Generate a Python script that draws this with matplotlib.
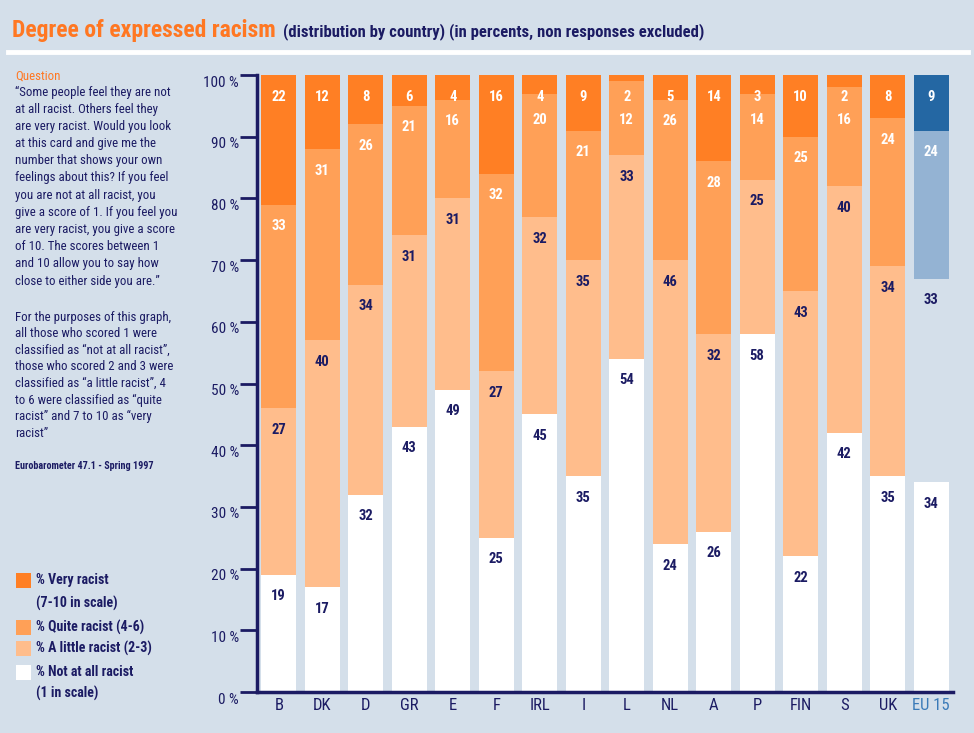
import matplotlib
matplotlib.use("Agg")
import matplotlib.pyplot as plt
import matplotlib.transforms as mtrans
from matplotlib import font_manager as fm
from matplotlib.patches import Rectangle
from matplotlib.lines import Line2D

# ---------------- data ----------------
countries = ["B", "DK", "D", "GR", "E", "F", "IRL", "I", "L", "NL", "A", "P", "FIN", "S", "UK", "EU 15"]
not_at_all = [19, 17, 32, 43, 49, 25, 45, 35, 54, 24, 26, 58, 22, 42, 35, 34]
a_little   = [27, 40, 34, 31, 31, 27, 32, 35, 33, 46, 32, 25, 43, 40, 34, 33]
quite      = [33, 31, 26, 21, 16, 32, 20, 21, 12, 26, 28, 14, 25, 16, 24, 24]
very       = [22, 12, 8, 6, 4, 16, 4, 9, 2, 5, 14, 3, 10, 2, 8, 9]
y_ticks = [0, 10, 20, 30, 40, 50, 60, 70, 80, 90, 100]
y_tick_labels = ["0 %", "10 %", "20 %", "30 %", "40 %", "50 %", "60 %", "70 %", "80 %", "90 %", "100 %"]

legend_labels = ["% Very racist", "(7-10 in scale)", "% Quite racist (4-6)",
                 "% A little racist (2-3)", "% Not at all racist", "(1 in scale)"]

question_lines = [
    "\u201cSome people feel they are not",
    "at all racist. Others feel they",
    "are very racist. Would you look",
    "at this card and give me the",
    "number that shows your own",
    "feelings about this? If you feel",
    "you are not at all racist, you",
    "give a score of 1. If you feel you",
    "are very racist, you give a score",
    "of 10. The scores between 1",
    "and 10 allow you to say how",
    "close to either side you are.\u201d",
]
purpose_lines = [
    "For the purposes of this graph,",
    "all those who scored 1 were",
    "classified as \u201cnot at all racist\u201d,",
    "those who scored 2 and 3 were",
    "classified as \u201ca little racist\u201d, 4",
    "to 6 were classified as \u201cquite",
    "racist\u201d and 7 to 10 as \u201cvery",
    "racist\u201d",
]

# ---------------- style ----------------
BG = "#d4dfea"
NAVY = "#1b1b63"
ORANGE_TXT = "#ff7722"
C_VERY = "#ff7f24"
C_QUITE = "#ffa057"
C_LITTLE = "#ffbd8c"
C_NOT = "#ffffff"
C_EU_VERY = "#2467a3"
C_EU_QUITE = "#94b3d3"
EU_TXT = "#3a7ab8"

installed = {f.name for f in fm.fontManager.ttflist}
NARROW = "DejaVu Sans"
for cand in ["Liberation Sans Narrow", "DejaVu Sans Condensed", "Roboto Condensed"]:
    if cand in installed:
        NARROW = cand
        break
plt.rcParams["font.family"] = [NARROW, "DejaVu Sans"]

W, H = 974, 733
fig = plt.figure(figsize=(W / 100, H / 100), dpi=100, facecolor=BG)


def fx(x):
    return x / W


def fy(y):
    return 1 - y / H


# title + white rule
fig.text(fx(12), fy(31), "Degree of expressed racism", color=ORANGE_TXT, fontsize=17,
         fontweight="bold", va="center", ha="left")
fig.text(fx(283), fy(32), "(distribution by country) (in percents, non responses excluded)",
         color=NAVY, fontsize=12, fontweight="bold", va="center", ha="left")
fig.add_artist(Line2D([fx(8), fx(968)], [fy(52), fy(52)], color="white", lw=3.5,
                      transform=fig.transFigure))

# left panel text
fig.text(fx(15), fy(76), "Question", color=ORANGE_TXT, fontsize=9.3, va="center", ha="left")
for i, line in enumerate(question_lines):
    fig.text(fx(15), fy(92 + i * 17.2), line, color=NAVY, fontsize=9.3, va="center", ha="left")
for i, line in enumerate(purpose_lines):
    fig.text(fx(15), fy(317 + i * 16.6), line, color=NAVY, fontsize=9.3, va="center", ha="left")
fig.text(fx(15), fy(466), "Eurobarometer 47.1 - Spring 1997", color=NAVY, fontsize=7.3,
         fontweight="bold", va="center", ha="left")

# legend
sq = 15
leg_items = [(C_VERY, 580), (C_QUITE, 627), (C_LITTLE, 648), (C_NOT, 672)]
for col, yc in leg_items:
    fig.add_artist(Rectangle((fx(16), fy(yc + sq / 2)), sq / W, sq / H, facecolor=col,
                             edgecolor="none", transform=fig.transFigure))
leg_y = [580, 603, 627, 648, 672, 693]
for lab, yc in zip(legend_labels, leg_y):
    fig.text(fx(36), fy(yc), lab, color=NAVY, fontsize=10, fontweight="bold",
             va="center", ha="left")

# ---------------- chart ----------------
ax = fig.add_axes([fx(257), fy(692), (953 - 257) / W, (692 - 75) / H])
ax.set_facecolor(BG)
ax.patch.set_alpha(0)

n = len(countries)
xs = list(range(n))
series = [not_at_all, a_little, quite, very]
col_main = [C_NOT, C_LITTLE, C_QUITE, C_VERY]
col_eu = [C_NOT, "none", C_EU_QUITE, C_EU_VERY]
txt_col = [NAVY, NAVY, "white", "white"]

tops = []
bottom = [0] * n
for s, vals in enumerate(series):
    colors = [col_main[s]] * (n - 1) + [col_eu[s]]
    ax.bar(xs, vals, bottom=bottom, width=0.8, color=colors, edgecolor="none", zorder=2)
    tops.append([min(b + v, 100) for b, v in zip(bottom, vals)])
    bottom = [b + v for b, v in zip(bottom, vals)]

# labels placed near the top of each segment, working downward so they never collide
for i in range(n):
    prev = None
    for s in range(len(series) - 1, -1, -1):
        ylab = tops[s][i] - 3.5
        if prev is not None:
            ylab = min(ylab, prev - 3.8)
        prev = ylab
        ax.text(xs[i], ylab, str(series[s][i]), ha="center", va="center",
                color=txt_col[s], fontsize=10.5, fontweight="bold", zorder=4)

ax.set_xlim(-0.5, n - 0.5)
ax.set_ylim(0, 100)
ax.set_yticks(y_ticks)
ax.set_yticklabels(y_tick_labels)
ax.set_xticks(xs)
ax.set_xticklabels(countries)
ax.tick_params(axis="y", direction="out", length=12, width=2, color=NAVY, labelcolor=NAVY,
               labelsize=11, pad=1)
ax.tick_params(axis="x", length=0, labelcolor=NAVY, labelsize=12, pad=4)
ax.get_xticklabels()[-1].set_color(EU_TXT)
shift = mtrans.ScaledTranslation(0, -6 / 100, fig.dpi_scale_trans)
for lab in ax.get_yticklabels():
    lab.set_transform(lab.get_transform() + shift)
for side in ["top", "right"]:
    ax.spines[side].set_visible(False)
for side in ["left", "bottom"]:
    ax.spines[side].set_color(NAVY)
    ax.spines[side].set_linewidth(2.5)
    ax.spines[side].set_zorder(5)

fig.savefig("out.png", dpi=100, facecolor=BG)
